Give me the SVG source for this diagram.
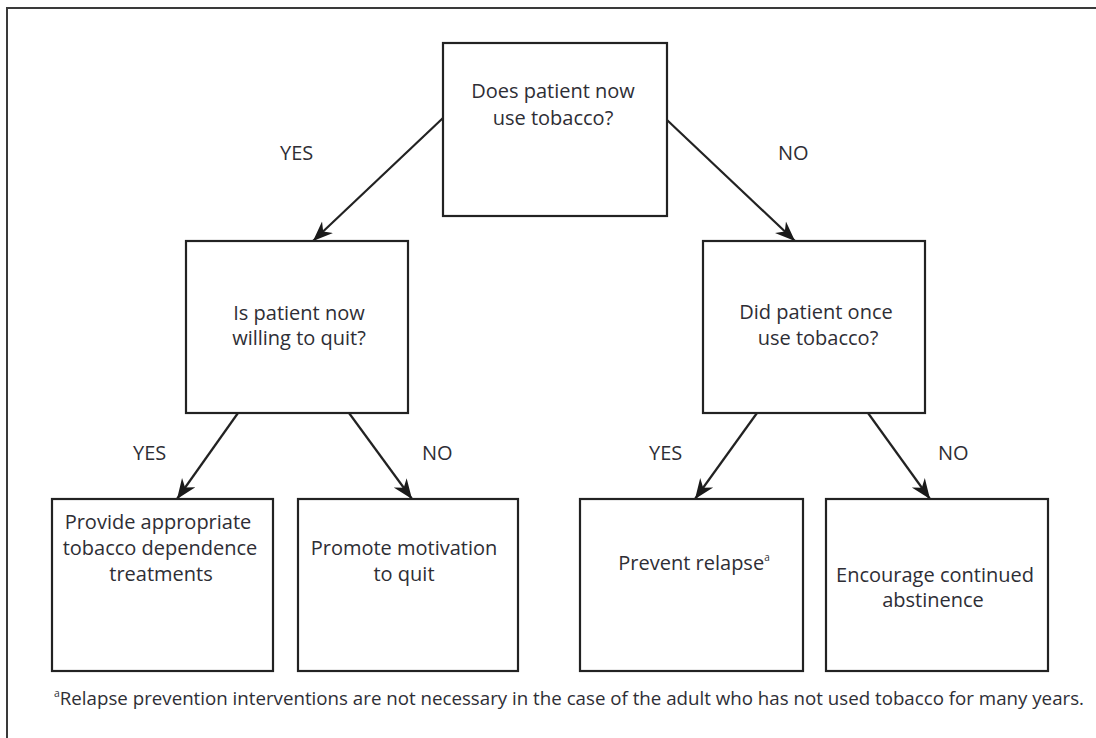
<svg xmlns="http://www.w3.org/2000/svg" width="1096" height="738" viewBox="0 0 1096 738">
<style>
.box{fill:#fff;stroke:#222;stroke-width:2.2}
.t{font-family:"Open Sans","Noto Sans",sans-serif;font-size:20px;fill:#2e2e35;text-anchor:middle}
.lbl{font-family:"Open Sans","Noto Sans",sans-serif;font-size:20px;fill:#2e2e35}
.fn{font-family:"Open Sans","Noto Sans",sans-serif;font-size:18px;fill:#2e2e35}
.edge{stroke:#222;stroke-width:2.2;fill:none;marker-end:url(#arr)}
.frame{stroke:#3a3a3a;stroke-width:2;fill:none}
</style>
<defs>
<marker id="arr" markerUnits="userSpaceOnUse" markerWidth="22" markerHeight="18" refX="20" refY="9" orient="auto">
<path d="M0,1 L20,9 L0,17 L6,9 Z" fill="#1a1a1a"/>
</marker>
</defs>
<rect width="1096" height="738" fill="#fff"/>
<path class="frame" d="M7,738 V8 H1096"/>
<g id="connectors">
<line class="edge" x1="443" y1="118" x2="313" y2="241"/>
<line class="edge" x1="667" y1="120" x2="795" y2="241"/>
<line class="edge" x1="238" y1="413" x2="177" y2="499"/>
<line class="edge" x1="349" y1="413" x2="412" y2="499"/>
<line class="edge" x1="757" y1="413" x2="695" y2="499"/>
<line class="edge" x1="868" y1="413" x2="930" y2="499"/>
<text class="lbl" x="280" y="160">YES</text>
<text class="lbl" x="778" y="160">NO</text>
<text class="lbl" x="133" y="460">YES</text>
<text class="lbl" x="422" y="460">NO</text>
<text class="lbl" x="649" y="460">YES</text>
<text class="lbl" x="938" y="460">NO</text>
</g>
<g id="q1">
<rect class="box" x="443" y="43" width="224" height="173"/>
<text class="t" x="553" y="98">Does patient now</text>
<text class="t" x="553" y="125">use tobacco?</text>
</g>
<g id="q2">
<rect class="box" x="186" y="241" width="222" height="172"/>
<text class="t" x="299" y="320">Is patient now</text>
<text class="t" x="299" y="345">willing to quit?</text>
</g>
<g id="q3">
<rect class="box" x="703" y="241" width="222" height="172"/>
<text class="t" x="816" y="319">Did patient once</text>
<text class="t" x="818" y="345">use tobacco?</text>
</g>
<g id="a1">
<rect class="box" x="52" y="499" width="221" height="172"/>
<text class="t" x="158" y="529">Provide appropriate</text>
<text class="t" x="160" y="555">tobacco dependence</text>
<text class="t" x="161" y="581">treatments</text>
</g>
<g id="a2">
<rect class="box" x="298" y="499" width="220" height="172"/>
<text class="t" x="404" y="555">Promote motivation</text>
<text class="t" x="404" y="581">to quit</text>
</g>
<g id="a3">
<rect class="box" x="580" y="499" width="223" height="172"/>
<text class="t" x="694" y="570">Prevent relapse<tspan font-size="10" dy="-9">a</tspan></text>
</g>
<g id="a4">
<rect class="box" x="826" y="499" width="222" height="172"/>
<text class="t" x="935" y="582">Encourage continued</text>
<text class="t" x="933" y="607">abstinence</text>
</g>
<g id="footnote">
<text class="fn" x="54" y="705" textLength="1030" lengthAdjust="spacingAndGlyphs"><tspan font-size="10" dy="-8">a</tspan><tspan dy="8">Relapse prevention interventions are not necessary in the case of the adult who has not used tobacco for many years.</tspan></text>
</g>
</svg>
